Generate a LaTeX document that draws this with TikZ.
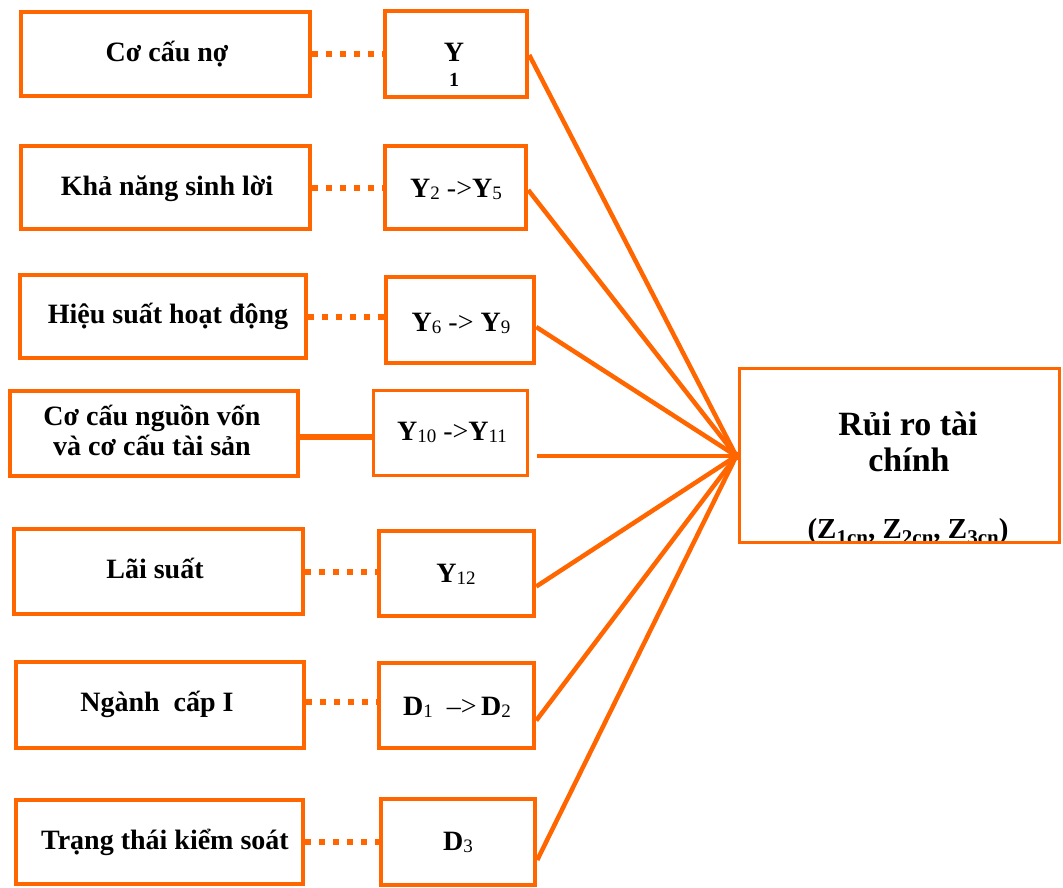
\documentclass[tikz,border=0pt]{standalone}
\usepackage{fontspec}
\setmainfont{Liberation Serif}
\usetikzlibrary{calc}
\definecolor{org}{RGB}{255,102,0}
\newcommand\ysub[1]{\raisebox{-2.5pt}{\fontsize{19}{19}\selectfont\mdseries #1}}
\newcommand\zsub[1]{\raisebox{-6pt}{\fontsize{21}{21}\selectfont #1}}
\newcommand\arr{{\mdseries ->}}
\begin{document}
\begin{tikzpicture}[x=1pt,y=-1pt,
  bx/.style={draw=org, line width=4.5pt, inner sep=0pt},
  thinbx/.style={draw=org, line width=3pt, inner sep=0pt},
  txt/.style={anchor=base, inner sep=0pt, font=\bfseries\fontsize{28}{32}\selectfont},
  rtxt/.style={anchor=base, inner sep=0pt, font=\bfseries\fontsize{34}{38}\selectfont},
  ztxt/.style={anchor=base, inner sep=0pt, font=\bfseries\fontsize{29}{32}\selectfont},
  dotcon/.style={draw=org, line width=6pt, dash pattern=on 6pt off 8pt},
  solcon/.style={draw=org, line width=6pt},
  feed/.style={draw=org, line width=4.5pt, line join=round}]
\useasboundingbox (0,0) rectangle (1063,888);

% left boxes
\node[bx, minimum width=289pt, minimum height=84pt] (L1) at (165.5,54) {};
\node[bx, minimum width=289pt, minimum height=83pt] (L2) at (165.5,187.5) {};
\node[bx, minimum width=286pt, minimum height=83pt] (L3) at (163,316.5) {};
\node[bx, minimum width=288pt, minimum height=85pt] (L4) at (154,433.5) {};
\node[bx, minimum width=289pt, minimum height=85pt] (L5) at (158.5,571.5) {};
\node[bx, minimum width=288pt, minimum height=86pt] (L6) at (160,705) {};
\node[bx, minimum width=287pt, minimum height=84pt] (L7) at (159.5,842) {};

\node[txt] (tL1) at (167,62) {Cơ cấu nợ};
\node[txt] (tL2) at (167,195) {Khả năng sinh lời};
\node[txt] (tL3) at (168,323) {Hiệu suất hoạt động};
\node[txt] (tL4a) at (152,425) {Cơ cấu nguồn vốn};
\node[txt] (tL4b) at (152,455) {và cơ cấu tài sản};
\node[txt] (tL5) at (155,578) {Lãi suất};
\node[txt] (tL6) at (157,711) {Ngành\ \ cấp I};
\node[txt] (tL7) at (165,849) {Trạng thái kiểm soát};

% middle boxes
\node[bx, minimum width=142pt, minimum height=86pt] (M1) at (456,54) {};
\node[bx, minimum width=141pt, minimum height=83pt] (M2) at (455.5,187.5) {};
\node[bx, minimum width=148pt, minimum height=86pt] (M3) at (460,320) {};
\node[thinbx, minimum width=154pt, minimum height=85pt] (M4) at (450.5,433) {};
\node[bx, minimum width=155pt, minimum height=85pt] (M5) at (456.5,573.5) {};
\node[bx, minimum width=155pt, minimum height=85pt] (M6) at (456.5,705.5) {};
\node[bx, minimum width=154pt, minimum height=86pt] (M7) at (458,842) {};

\node[txt] (tM1a) at (454,62) {Y};
\node[anchor=base, inner sep=0pt, font=\bfseries\fontsize{20}{22}\selectfont] (tM1b) at (454,87) {1};
\node[txt] (tM2) at (456,197) {Y\ysub{2} \arr Y\ysub{5}};
\node[txt] (tM3) at (461,331) {Y\ysub{6} \arr\ Y\ysub{9}};
\node[txt] (tM4) at (452,440) {Y\ysub{10} \arr Y\ysub{11}};
\node[txt] (tM5) at (456,582) {Y\ysub{12}};
\node[txt] (tM6) at (457,715) {D\ysub{1}\ \ {\mdseries\textendash>}\,D\ysub{2}};
\node[txt] (tM7) at (458,850) {D\ysub{3}};

% right box
\node[inner sep=0pt, minimum width=320pt, minimum height=174pt] (R) at (899.5,455.5) {};
\node[rtxt] (tR1) at (908,435) {Rủi ro tài};
\node[rtxt] (tR2) at (909,471) {chính};
\begin{scope}
  \clip (R.south west) rectangle (R.north east);
  \node[ztxt] (tR3) at (908,538) {(Z\zsub{1cn}, Z\zsub{2cn}, Z\zsub{3cn})};
\end{scope}
\draw[org, line width=3pt] (R.south west) rectangle (R.north east);

% left-to-middle connectors
\draw[dotcon] (L1.east) -- (L1.east -| M1.west);
\draw[dotcon] (L2.east) -- (L2.east -| M2.west);
\draw[dotcon] (L3.east) -- (L3.east -| M3.west);
\draw[solcon] ($(L4.east)+(0,3)$) -- ($(L4.east -| M4.west)+(0,3)$);
\draw[dotcon] (L5.east) -- (L5.east -| M5.west);
\draw[dotcon] ($(L6.east)+(0,-3)$) -- ($(L6.east -| M6.west)+(0,-3)$);
\draw[dotcon] (L7.east) -- (L7.east -| M7.west);

% converging connectors
\coordinate (C) at ($(R.west)+(-3,0.5)$);
\coordinate (m4out) at ($(M4.east)+(8,23)$);
\draw[feed] ($(M1.east)+(0,1)$) -- (C);
\draw[feed] ($(M2.east)+(0,2.5)$) -- (C);
\draw[feed] ($(M3.east)+(0,7)$) -- (C);
\draw[feed] (m4out) -- (C);
\draw[feed] ($(M5.east)+(0,13)$) -- (C);
\draw[feed] ($(M6.east)+(0,15)$) -- (C);
\draw[feed] ($(M7.east)+(0,18)$) -- (C);
\fill[org] (C) circle (4.5pt);
\end{tikzpicture}
\end{document}
